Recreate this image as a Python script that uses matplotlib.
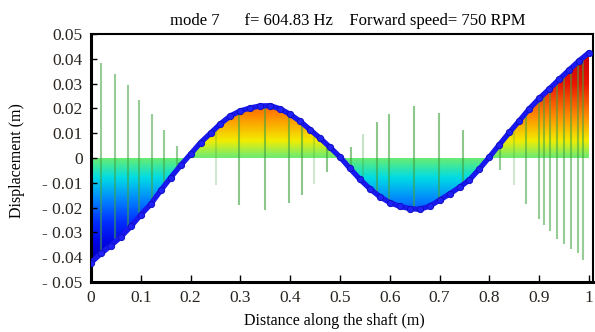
import numpy as np
import matplotlib
matplotlib.use('Agg')
import matplotlib.pyplot as plt
from matplotlib.colors import LinearSegmentedColormap

plt.rcParams['font.family'] = ['Liberation Serif', 'DejaVu Serif']

# ---- data ----
x_pos = [0.00, 0.02, 0.04, 0.06, 0.08, 0.10, 0.12, 0.14, 0.16, 0.18,
         0.20, 0.22, 0.24, 0.26, 0.28, 0.30, 0.32, 0.34, 0.36, 0.38,
         0.40, 0.42, 0.44, 0.46, 0.48, 0.50, 0.52, 0.54, 0.56, 0.58,
         0.60, 0.62, 0.64, 0.66, 0.68, 0.70, 0.72, 0.74, 0.76, 0.78,
         0.80, 0.82, 0.84, 0.86, 0.88, 0.90, 0.92, 0.94, 0.96, 0.98, 1.00]
disp = [-0.0422, -0.0385, -0.0353, -0.0318, -0.0276, -0.0229, -0.0186, -0.0131, -0.0079, -0.0030,
        0.0016, 0.0062, 0.0100, 0.0138, 0.0170, 0.0190, 0.0202, 0.0210, 0.0211, 0.0198,
        0.0176, 0.0148, 0.0114, 0.0080, 0.0043, 0.0004, -0.0042, -0.0086, -0.0124, -0.0156,
        -0.0180, -0.0195, -0.0204, -0.0207, -0.0194, -0.0170, -0.0145, -0.0118, -0.0088, -0.0044,
        0.0004, 0.0054, 0.0103, 0.0150, 0.0198, 0.0240, 0.0278, 0.0317, 0.0355, 0.0392, 0.0425]

node_x = [0.021, 0.048, 0.074, 0.097, 0.123, 0.147, 0.173, 0.250, 0.298, 0.349,
          0.398, 0.423, 0.448, 0.474, 0.522, 0.546, 0.574, 0.599, 0.648, 0.699,
          0.747, 0.822, 0.850, 0.874, 0.899, 0.910, 0.922, 0.936, 0.950, 0.963,
          0.977, 0.987]
node_disp = [-0.0382, -0.0340, -0.0293, -0.0235, -0.0179, -0.0112, -0.0048, 0.0110, 0.0190, 0.0211,
             0.0182, 0.0148, 0.0104, 0.0056, -0.0045, -0.0098, -0.0145, -0.0179, -0.0208, -0.0181,
             -0.0112, 0.0050, 0.0110, 0.0184, 0.0244, 0.0269, 0.0296, 0.0325, 0.0345, 0.0365,
             0.0385, 0.0410]
node_alpha = [0.55, 0.55, 0.55, 0.55, 0.55, 0.55, 0.55, 0.25, 0.6, 0.6,
              0.6, 0.6, 0.25, 0.6, 0.6, 0.3, 0.6, 0.6, 0.6, 0.6,
              0.6, 0.55, 0.25, 0.55, 0.55, 0.55, 0.55, 0.55, 0.55, 0.55,
              0.55, 0.55]

xticks = [0, 0.1, 0.2, 0.3, 0.4, 0.5, 0.6, 0.7, 0.8, 0.9, 1.0]
xtick_labels = ['0', '0.1', '0.2', '0.3', '0.4', '0.5', '0.6', '0.7', '0.8', '0.9', '1']
yticks = [0.05, 0.04, 0.03, 0.02, 0.01, 0, -0.01, -0.02, -0.03, -0.04, -0.05]
ytick_labels = ['0.05', '0.04', '0.03', '0.02', '0.01', '0',
                '- 0.01', '- 0.02', '- 0.03', '- 0.04', '- 0.05']
title = "mode 7      f= 604.83 Hz    Forward speed= 750 RPM"
xlabel = "Distance along the shaft (m)"
ylabel = "Displacement (m)"

# colour scale of the fill (displacement -> colour), jet-like
cmin, cmax = -0.042, 0.042
anchors = [(-0.042, (0.00, 0.00, 0.72)),
           (-0.034, (0.00, 0.02, 0.90)),
           (-0.026, (0.00, 0.18, 1.00)),
           (-0.018, (0.00, 0.48, 1.00)),
           (-0.008, (0.00, 0.86, 0.90)),
           (-0.002, (0.30, 0.92, 0.55)),
           (0.000, (0.42, 0.92, 0.45)),
           (0.002, (0.55, 0.93, 0.35)),
           (0.007, (0.95, 0.93, 0.00)),
           (0.017, (1.00, 0.55, 0.00)),
           (0.030, (0.92, 0.08, 0.00)),
           (0.042, (0.78, 0.00, 0.00))]
cmap = LinearSegmentedColormap.from_list(
    'shaft', [((v - cmin) / (cmax - cmin), c) for v, c in anchors])

# ---- figure ----
fig = plt.figure(figsize=(5.95, 3.32), dpi=100)
ax = fig.add_axes([91 / 595, 50 / 332, 502 / 595, 248 / 332])
ax.set_xlim(0, 1.008)
ax.set_ylim(-0.05, 0.05)

# gradient fill between curve and zero, coloured by displacement
grad = np.linspace(-0.05, 0.05, 400).reshape(-1, 1)
im = ax.imshow(grad, extent=[0, 1.008, -0.05, 0.05], origin='lower', cmap=cmap,
               vmin=cmin, vmax=cmax, aspect='auto', zorder=1, interpolation='bilinear')
poly = ax.fill_between(x_pos, disp, 0, facecolor='none', edgecolor='none', zorder=1)
im.set_clip_path(poly.get_paths()[0], transform=ax.transData)

# mirrored shaft position at nodes (green vertical lines)
nd = np.array(node_disp)
cols = [(0.25, 0.64, 0.25, a) for a in node_alpha]
ax.vlines(node_x, nd, -nd, colors=cols, linewidth=1.5, zorder=2)

# mode shape curve
ax.plot(x_pos, disp, color='#1818ee', lw=3.8, marker='o', ms=4.5,
        mfc='#2020f8', mec='#1010c0', mew=0.7, zorder=3, solid_capstyle='round')

ax.set_xticks(xticks)
ax.set_xticklabels(xtick_labels)
ax.set_yticks(yticks)
ax.set_yticklabels(ytick_labels)
ax.tick_params(axis='both', direction='in', labelsize=12.5, labelcolor='#2a2520',
               length=4, width=1.0)
ax.tick_params(axis='x', pad=6, length=5)
ax.tick_params(axis='y', pad=6)

for s in ['left', 'bottom']:
    ax.spines[s].set_linewidth(2.2)
for s in ['top', 'right']:
    ax.spines[s].set_linewidth(1.5)

ax.set_xlabel(xlabel, fontsize=11.5)
ax.xaxis.set_label_coords(0.484, -0.125)
ax.set_ylabel(ylabel, fontsize=11.5)
ax.yaxis.set_label_coords(-0.131, 0.49)

fig.text(348 / 595, 1 - 25 / 332, title, ha='center', va='baseline', fontsize=12)

fig.savefig('out.png', dpi=100)
